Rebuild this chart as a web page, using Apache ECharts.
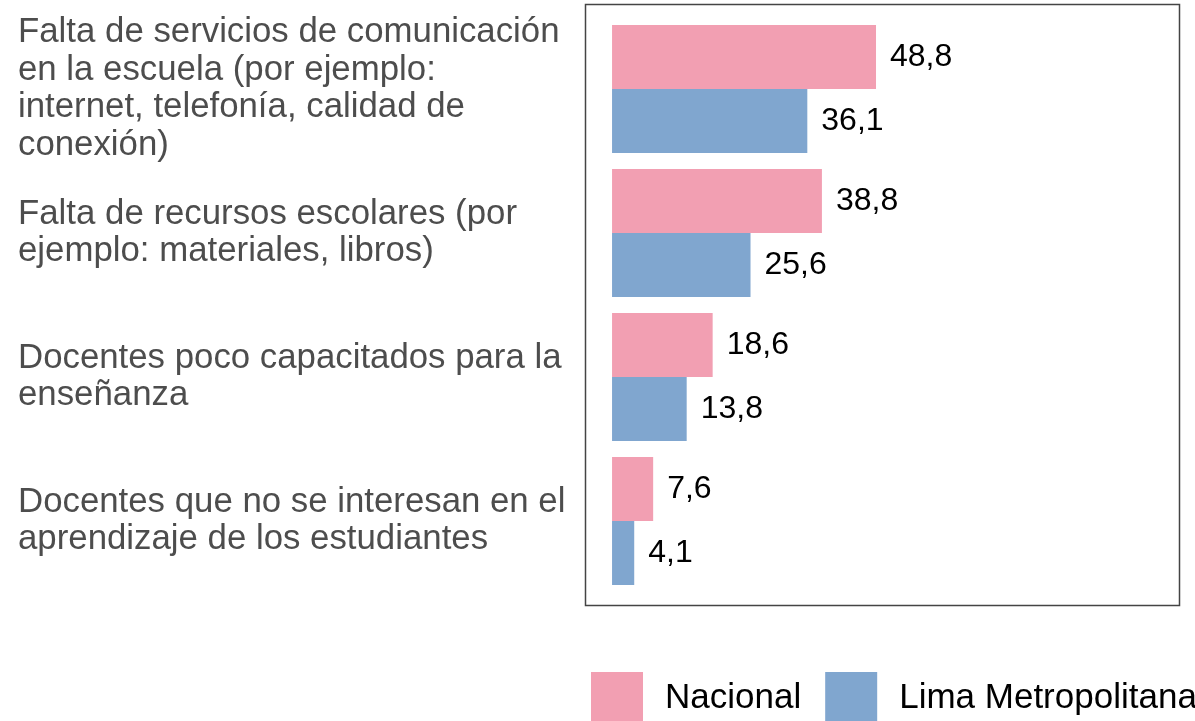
<!DOCTYPE html>
<html>
<head>
<meta charset="utf-8">
<script src="https://cdn.jsdelivr.net/npm/echarts@6/dist/echarts.min.js"></script>
<style>
  html, body { margin: 0; padding: 0; background: #fff; }
  #chart { width: 1195px; height: 721px; }
</style>
</head>
<body>
<div id="chart"></div>
<script>
// Problem categories (top to bottom), wrapped as displayed
const categories = [
  'Falta de servicios de comunicación\nen la escuela (por ejemplo:\ninternet, telefonía, calidad de\nconexión)',
  'Falta de recursos escolares (por\nejemplo: materiales, libros)',
  'Docentes poco capacitados para la\nenseñanza',
  'Docentes que no se interesan en el\naprendizaje de los estudiantes'
];
const seriesNames = ['Nacional', 'Lima Metropolitana'];
const nacional = [48.8, 38.8, 18.6, 7.6];
const limaMetropolitana = [36.1, 25.6, 13.8, 4.1];

const FONT = "'Liberation Sans', Arial, sans-serif";
const fmt = p => p.value.toFixed(1).replace('.', ',');

const chart = echarts.init(document.getElementById('chart'), null, { renderer: 'canvas' });

const labelStyle = {
  show: true,
  position: 'right',
  distance: 14,
  color: '#000',
  fontSize: 32,
  fontFamily: FONT,
  formatter: fmt
};

chart.setOption({
  animation: false,
  backgroundColor: '#fff',
  grid: { left: 585, right: 15, top: 17, bottom: 128, containLabel: false },
  xAxis: {
    type: 'value',
    min: -5,
    max: 105,
    show: false
  },
  yAxis: {
    type: 'category',
    data: categories,
    inverse: true,
    axisLine: { show: false },
    axisTick: { show: false },
    splitLine: { show: false },
    axisLabel: {
      align: 'left',
      margin: 567,
      color: '#4d4d4d',
      fontSize: 34.8,
      lineHeight: 37.5,
      fontFamily: FONT
    }
  },
  legend: {
    data: seriesNames,
    left: 591,
    top: 672,
    width: 660,
    padding: 0,
    itemWidth: 52,
    itemHeight: 52,
    itemGap: 24,
    icon: 'rect',
    textStyle: {
      color: '#000',
      fontSize: 35,
      fontFamily: FONT,
      padding: [8, 0, 0, 17]
    }
  },
  graphic: [{
    type: 'rect',
    shape: { x: 585.5, y: 4.5, width: 594, height: 601 },
    style: { fill: 'none', stroke: '#444', lineWidth: 1.5 },
    silent: true,
    z: 10
  }],
  series: [
    {
      name: seriesNames[0],
      type: 'bar',
      data: nacional,
      barWidth: 64,
      barGap: '0%',
      itemStyle: { color: '#F29FB2' },
      label: labelStyle
    },
    {
      name: seriesNames[1],
      type: 'bar',
      data: limaMetropolitana,
      barWidth: 64,
      barGap: '0%',
      itemStyle: { color: '#80A6CF' },
      label: labelStyle
    }
  ]
});
</script>
</body>
</html>
